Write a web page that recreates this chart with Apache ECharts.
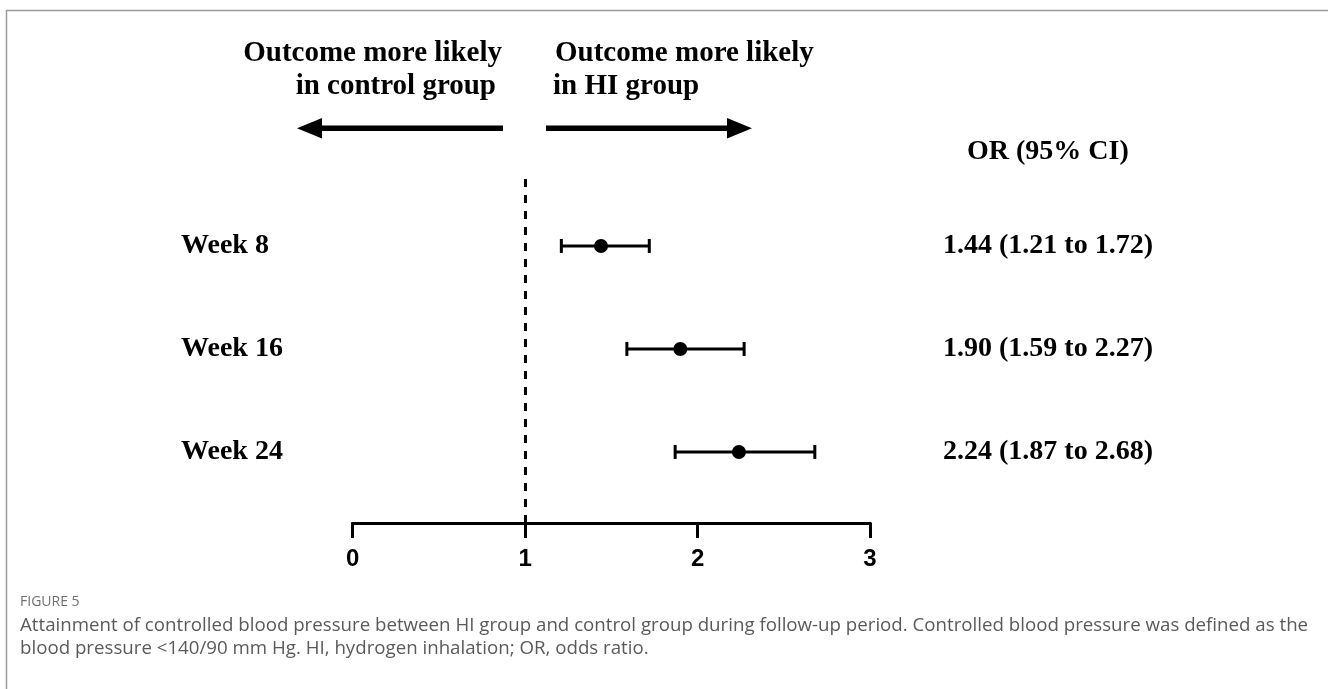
<!DOCTYPE html>
<html>
<head>
<meta charset="utf-8">
<script src="https://cdn.jsdelivr.net/npm/echarts@6/dist/echarts.min.js"></script>
<style>
  html, body { margin: 0; padding: 0; background: #fff; }
  #chart { width: 1328px; height: 689px; }
</style>
</head>
<body>
<div id="chart"></div>
<script>
// Odds ratios for attaining controlled blood pressure, by follow-up week
const rowLabels = ['Week 8', 'Week 16', 'Week 24'];
const rowPos = [3, 2, 1];
const orValues = [1.44, 1.90, 2.24];
const ciLow = [1.21, 1.59, 1.87];
const ciHigh = [1.72, 2.27, 2.68];
const xTicks = [0, 1, 2, 3];
const nullValue = 1;

const SERIF = '"Liberation Serif", "Times New Roman", serif';
const SANS = '"Liberation Sans", Arial, sans-serif';
const CAPTION = '"Open Sans", "Noto Sans", sans-serif';

const forestData = rowLabels.map((name, i) => [rowPos[i], orValues[i], ciLow[i], ciHigh[i], i]);

function fmt(v) { return v.toFixed(2); }

// one row: CI whisker with end caps, point estimate, row label and OR text
function renderRow(params, api) {
  const y = api.value(0);
  const i = api.value(4);
  const mid = api.coord([api.value(1), y]);
  const lo = api.coord([api.value(2), y]);
  const hi = api.coord([api.value(3), y]);
  const capHalf = 7;
  const stroke = { stroke: '#000', lineWidth: 3 };
  return {
    type: 'group',
    children: [
      { type: 'line', shape: { x1: lo[0], y1: lo[1], x2: hi[0], y2: hi[1] }, style: stroke },
      { type: 'line', shape: { x1: lo[0], y1: lo[1] - capHalf, x2: lo[0], y2: lo[1] + capHalf }, style: stroke },
      { type: 'line', shape: { x1: hi[0], y1: hi[1] - capHalf, x2: hi[0], y2: hi[1] + capHalf }, style: stroke },
      { type: 'circle', shape: { cx: mid[0], cy: mid[1], r: 7 }, style: { fill: '#000' } },
      { type: 'text', style: { text: rowLabels[i], x: 181, y: mid[1], verticalAlign: 'middle', align: 'left',
          font: 'bold 28px ' + SERIF, fill: '#000' } },
      { type: 'text', style: { text: fmt(orValues[i]) + ' (' + fmt(ciLow[i]) + ' to ' + fmt(ciHigh[i]) + ')',
          x: 943, y: mid[1], verticalAlign: 'middle', align: 'left', font: 'bold 28px ' + SERIF, fill: '#000' } }
    ]
  };
}

const chart = echarts.init(document.getElementById('chart'), null, { renderer: 'canvas' });

const headFont = 'bold 29px ' + SERIF;

chart.setOption({
  animation: false,
  backgroundColor: '#fff',
  grid: { left: 352.7, right: 458, top: 172, bottom: 166, containLabel: false },
  xAxis: {
    type: 'value', min: xTicks[0], max: xTicks[xTicks.length - 1], interval: 1,
    axisLine: { show: true, onZero: false, lineStyle: { color: '#000', width: 3, cap: 'square' } },
    axisTick: { show: true, length: 15, lineStyle: { color: '#000', width: 3 } },
    axisLabel: { show: true, margin: 24, color: '#000', fontFamily: SANS, fontWeight: 'bold', fontSize: 24,
      showMinLabel: true, showMaxLabel: true },
    splitLine: { show: false }
  },
  yAxis: { type: 'value', min: 0.31, max: 3.718, show: false },
  series: [{
    type: 'custom',
    renderItem: renderRow,
    data: forestData,
    encode: { x: [1, 2, 3], y: 0 },
    silent: true,
    markLine: {
      silent: true,
      symbol: ['none', 'none'],
      label: { show: false },
      lineStyle: { color: '#000', width: 3, type: [8, 8] },
      data: [{ xAxis: nullValue }]
    }
  }],
  graphic: [
    // figure frame
    { type: 'line', shape: { x1: 6, y1: 10.5, x2: 1328, y2: 10.5 }, style: { stroke: '#9a9a9a', lineWidth: 1.5 } },
    { type: 'line', shape: { x1: 6.5, y1: 10, x2: 6.5, y2: 689 }, style: { stroke: '#9a9a9a', lineWidth: 1.5 } },
    // direction captions
    { type: 'text', style: { text: 'Outcome more likely', x: 502, y: 54, align: 'right', verticalAlign: 'middle', font: headFont, fill: '#000' } },
    { type: 'text', style: { text: 'in control group', x: 496, y: 87, align: 'right', verticalAlign: 'middle', font: headFont, fill: '#000' } },
    { type: 'text', style: { text: 'Outcome more likely', x: 555, y: 54, align: 'left', verticalAlign: 'middle', font: headFont, fill: '#000' } },
    { type: 'text', style: { text: 'in HI group', x: 553, y: 87, align: 'left', verticalAlign: 'middle', font: headFont, fill: '#000' } },
    // direction arrows
    { type: 'rect', shape: { x: 320, y: 125.5, width: 183, height: 5.5 }, style: { fill: '#000' } },
    { type: 'polygon', shape: { points: [[297, 128.3], [322, 118], [322, 138.6]] }, style: { fill: '#000' } },
    { type: 'rect', shape: { x: 546, y: 125.5, width: 183, height: 5.5 }, style: { fill: '#000' } },
    { type: 'polygon', shape: { points: [[752, 128.3], [727, 118], [727, 138.6]] }, style: { fill: '#000' } },
    // column header
    { type: 'text', style: { text: 'OR (95% CI)', x: 967, y: 152, align: 'left', verticalAlign: 'middle', font: 'bold 28px ' + SERIF, fill: '#000' } },
    // figure caption
    { type: 'text', style: { text: 'FIGURE 5', x: 20, y: 602, verticalAlign: 'middle', font: '14px ' + CAPTION, fill: '#707070' } },
    { type: 'text', style: { text: 'Attainment of controlled blood pressure between HI group and control group during follow-up period. Controlled blood pressure was defined as the',
        x: 20, y: 626, verticalAlign: 'middle', font: '18.7px ' + CAPTION, fill: '#5a5a5a' } },
    { type: 'text', style: { text: 'blood pressure <140/90 mm Hg. HI, hydrogen inhalation; OR, odds ratio.',
        x: 20, y: 649, verticalAlign: 'middle', font: '18.7px ' + CAPTION, fill: '#5a5a5a' } }
  ]
});
</script>
</body>
</html>
